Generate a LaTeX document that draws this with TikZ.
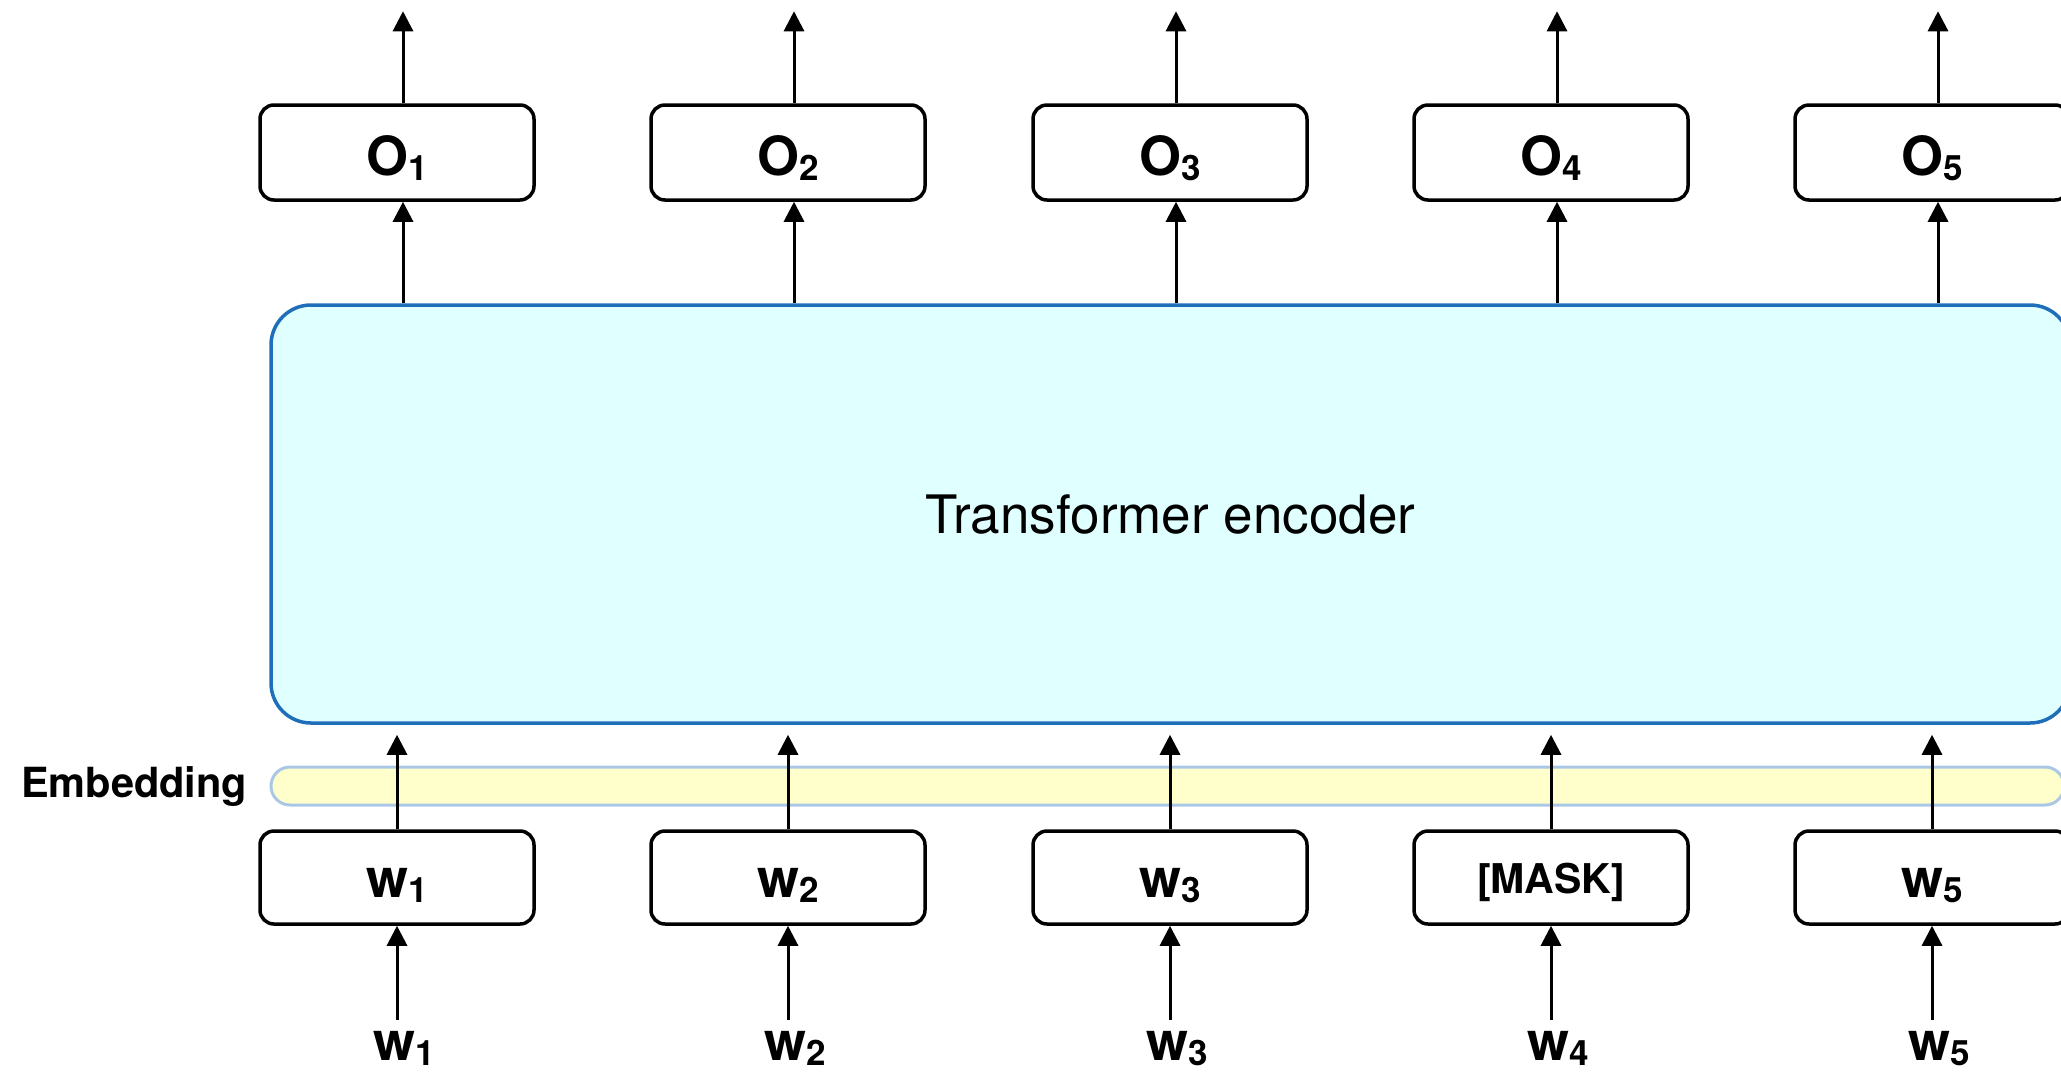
\documentclass[tikz,border=0pt]{standalone}
\usepackage{fontspec}
\setmainfont{TeX Gyre Heros}
\usetikzlibrary{arrows.meta,calc}
\definecolor{encfill}{HTML}{E0FFFF}
\definecolor{encline}{HTML}{1E6EB9}
\definecolor{embfill}{HTML}{FFFFCC}
\definecolor{embline}{HTML}{AAC8E6}
% bold token with a lowered index
\newcommand{\toklbl}[2]{{\bfseries\fontsize{54}{60}\selectfont #1\raisebox{-5pt}{\fontsize{35}{40}\selectfont #2}}}

\begin{document}
\begin{tikzpicture}[x=1pt,y=-1pt,
  tok/.style={draw=black, line width=3.5pt, rounded corners=14pt,
    minimum width=274pt, minimum height=95pt, inner sep=0pt, fill=white},
  obox/.style={tok, text height=45pt, text depth=0pt},
  wbox/.style={tok, minimum height=93pt, text height=39pt, text depth=0pt},
  arr/.style={line width=3pt, -{Triangle[length=20pt,width=20pt]}},
  enc/.style={draw=encline, fill=encfill, line width=3.5pt, rounded corners=40pt,
    minimum width=1799pt, minimum height=418pt, inner sep=0pt,
    font=\fontsize{53}{60}\selectfont},
  emb/.style={draw=embline, fill=embfill, line width=3pt, rounded corners=19pt,
    minimum width=1793pt, minimum height=38pt, inner sep=0pt},
  inlbl/.style={anchor=base, inner sep=0pt}]

\useasboundingbox (0,0) rectangle (2061,1072);
\clip (0,0) rectangle (2061,1072);

% encoder block and embedding layer
\node[enc] (enc) at (1170.5,514) {Transformer encoder};
\node[emb] (emb) at (1167.5,786) {};
\node[anchor=base west, inner sep=0pt, font=\bfseries\fontsize{41.5}{46}\selectfont]
  (emblbl) at (21,797) {Embedding};

% output tokens
\foreach \x [count=\i] in {397,788,1170,1551,1932} {
  \node[obox] (o\i) at (\x,152.5) {\toklbl{O}{\i}};
}

% input token boxes
\node[wbox] (w1) at (397,877.5) {\toklbl{w}{1}};
\node[wbox] (w2) at (788,877.5) {\toklbl{w}{2}};
\node[wbox] (w3) at (1170,877.5) {\toklbl{w}{3}};
\node[wbox, text height=31pt] (w4) at (1551,877.5)
  {\bfseries\fontsize{41}{46}\selectfont [MASK]};
\node[wbox] (w5) at (1932,877.5) {\toklbl{w}{5}};

% raw input words
\foreach \x [count=\i] in {404,795,1177,1558,1939} {
  \node[inlbl] (in\i) at (\x,1060) {\toklbl{w}{\i}};
}

% connectors
\foreach \i in {1,...,5} {
  \draw[arr] ([xshift=6pt]o\i.north) -- ++(0,-92);
  \draw[arr] ([xshift=6pt]o\i.south |- enc.north) -- ([xshift=6pt]o\i.south);
  \draw[arr] (w\i.north) -- ($(w\i.north |- enc.south)+(0,10)$);
  \draw[arr] ($(w\i.south |- in\i.north)+(0,-11)$) -- (w\i.south);
}
\end{tikzpicture}
\end{document}
